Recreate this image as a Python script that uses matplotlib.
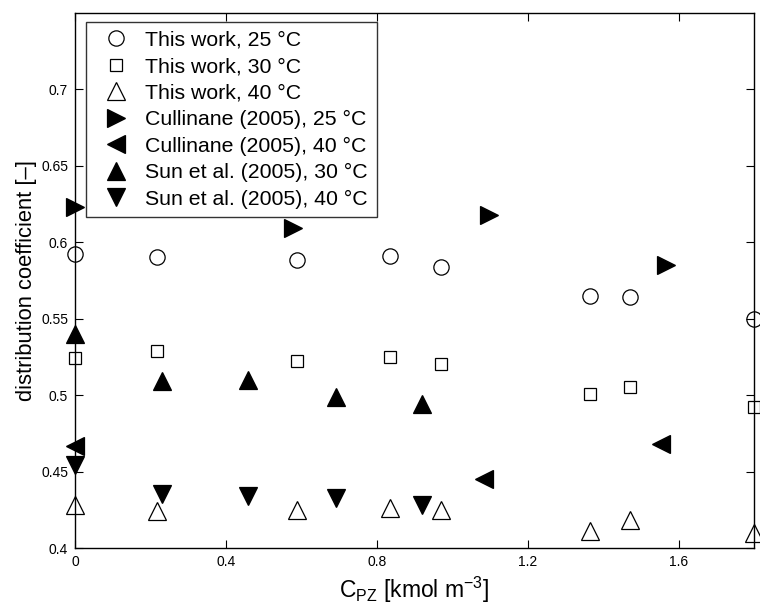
import numpy as np
import matplotlib
matplotlib.use("Agg")
import matplotlib.pyplot as plt

plt.rcParams["font.family"] = ["Liberation Sans", "DejaVu Sans"]

# ---- this work (same concentrations at every temperature)
c_this = [0.0, 0.218, 0.589, 0.834, 0.970, 1.364, 1.472, 1.800]
k_25 = [0.592, 0.590, 0.588, 0.591, 0.584, 0.565, 0.564, 0.550]
k_30 = [0.524, 0.529, 0.522, 0.525, 0.520, 0.501, 0.505, 0.492]
k_40 = [0.428, 0.424, 0.425, 0.426, 0.425, 0.411, 0.418, 0.410]

# ---- Cullinane (2005)
c_cul25 = [0.0, 0.577, 1.097, 1.566]
k_cul25 = [0.623, 0.609, 0.618, 0.585]
c_cul40 = [0.0, 1.083, 1.554]
k_cul40 = [0.467, 0.445, 0.468]

# ---- Sun et al. (2005)
c_sun = [0.0, 0.231, 0.459, 0.691, 0.920]
k_sun30 = [0.540, 0.509, 0.510, 0.499, 0.494]
k_sun40 = [0.454, 0.435, 0.434, 0.433, 0.428]

series = [
    (c_this, k_25, "o", "none", 11, "This work, 25 °C"),
    (c_this, k_30, "s", "none", 9, "This work, 30 °C"),
    (c_this, k_40, "^", "none", 12.5, "This work, 40 °C"),
    (c_cul25, k_cul25, ">", "k", 12.5, "Cullinane (2005), 25 °C"),
    (c_cul40, k_cul40, "<", "k", 12.5, "Cullinane (2005), 40 °C"),
    (c_sun, k_sun30, "^", "k", 12.5, "Sun et al. (2005), 30 °C"),
    (c_sun, k_sun40, "v", "k", 12.5, "Sun et al. (2005), 40 °C"),
]

fig = plt.figure(figsize=(7.6, 6.11), dpi=100)
ax = fig.add_axes([0.0987, 0.1031, 0.8935, 0.8761])
for x, y, mk, fc, ms, lab in series:
    ax.plot(x, y, ls="none", marker=mk, ms=ms, mfc=fc, mec="k", mew=0.9,
            label=lab, clip_on=False, zorder=3)

ax.set_xlim(0, 1.8)
ax.set_ylim(0.4, 0.75)
ax.set_xticks([0, 0.4, 0.8, 1.2, 1.6])
ax.set_xticklabels(["0", "0.4", "0.8", "1.2", "1.6"])
ax.set_yticks([0.4, 0.45, 0.5, 0.55, 0.6, 0.65, 0.7])
ax.set_yticklabels(["0.4", "0.45", "0.5", "0.55", "0.6", "0.65", "0.7"])
ax.tick_params(direction="in", top=True, right=True, length=6, width=0.8,
               labelsize=10, pad=5)
for s in ax.spines.values():
    s.set_linewidth(1.0)

ax.set_xlabel(r"C$_{\mathregular{PZ}}$ [kmol m$^{\mathregular{-3}}$]", fontsize=16.5, labelpad=4)
ax.set_ylabel("distribution coefficient [–]", fontsize=15.8, labelpad=3)

leg = ax.legend(loc="upper left", bbox_to_anchor=(0.016, 0.982), fontsize=15.3,
                frameon=True, fancybox=False, edgecolor="k", borderpad=0.4,
                labelspacing=0.35, handlelength=2.0, handletextpad=0.4,
                borderaxespad=0, markerscale=1.0)
leg.get_frame().set_linewidth(1.0)

fig.savefig("out.png", dpi=100)
